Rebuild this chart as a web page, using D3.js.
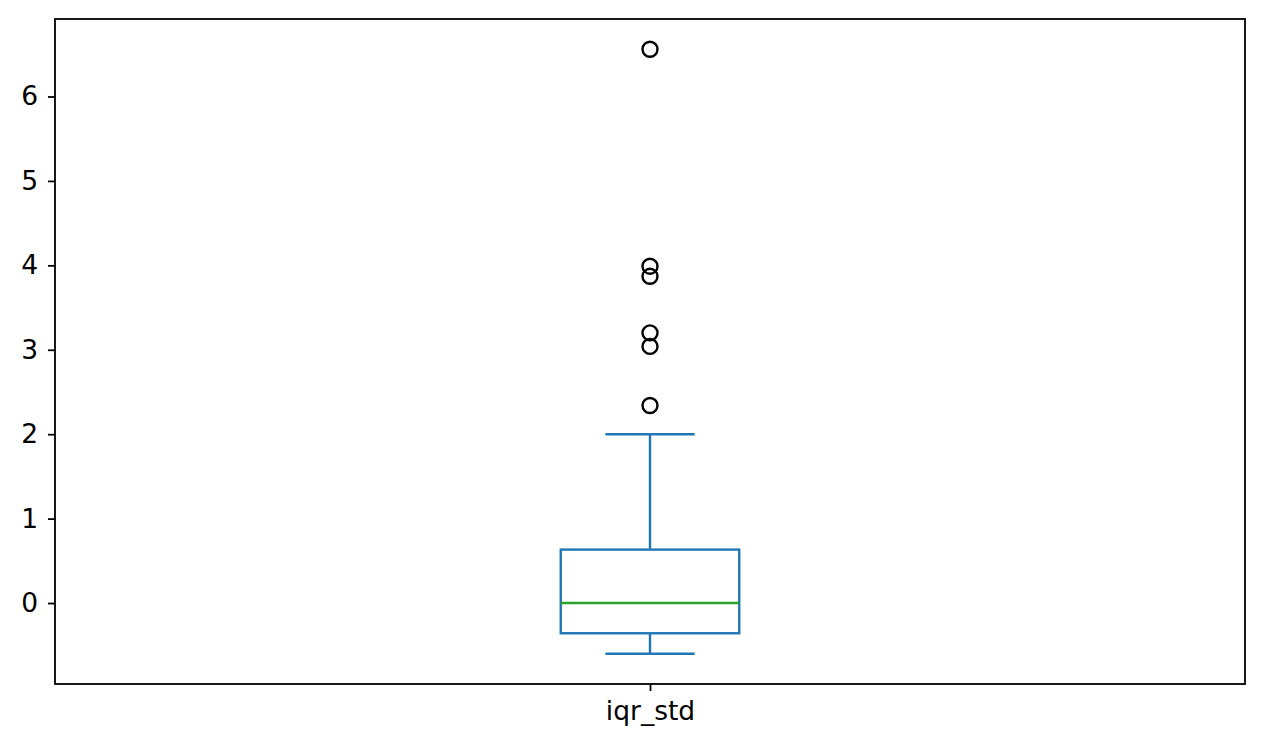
<!DOCTYPE html>
<html>
<head>
<meta charset="utf-8">
<script src="https://cdn.jsdelivr.net/npm/d3@7"></script>
<style>
  body { margin: 0; background: #fff; }
  svg text { font-family: "DejaVu Sans", sans-serif; fill: #000; }
</style>
</head>
<body>
<script>
// data
const categories = ["iqr_std"];
const whiskerLow = [-0.601];
const q1 = [-0.358];
const median = [0.0];
const q3 = [0.633];
const whiskerHigh = [2.0];
const outliers = [[6.56, 3.99, 3.87, 3.20, 3.04, 2.34]];
const yTicks = [0, 1, 2, 3, 4, 5, 6];

const w = 1264;
const h = 748;
const margin = {left: 55, right: 19, top: 19, bottom: 64};

const svg = d3.select("body")
  .append("svg")
  .attr("width", w)
  .attr("height", h);

const allVals = whiskerLow.concat(whiskerHigh, outliers.flat());
const lo = d3.min(allVals), hi = d3.max(allVals);
const pad = (hi - lo) * 0.05;

const yScale = d3.scaleLinear()
  .domain([lo - pad, hi + pad])
  .range([h - margin.bottom, margin.top]);

const xScale = d3.scalePoint()
  .domain(categories)
  .range([margin.left, w - margin.right])
  .padding(0.5);

const plotW = w - margin.left - margin.right;
const boxW = plotW * 0.15;
const capW = boxW / 2;
const blue = "#1f77b4";
const lw = 2.4;

const g = svg.append("g");

categories.forEach((c, i) => {
  const cx = xScale(c);
  // whiskers
  g.append("line")
    .attr("x1", cx).attr("x2", cx)
    .attr("y1", yScale(q3[i])).attr("y2", yScale(whiskerHigh[i]))
    .attr("stroke", blue).attr("stroke-width", lw);
  g.append("line")
    .attr("x1", cx).attr("x2", cx)
    .attr("y1", yScale(q1[i])).attr("y2", yScale(whiskerLow[i]))
    .attr("stroke", blue).attr("stroke-width", lw);
  // caps
  [whiskerHigh[i], whiskerLow[i]].forEach(v => {
    g.append("line")
      .attr("x1", cx - capW / 2).attr("x2", cx + capW / 2)
      .attr("y1", yScale(v)).attr("y2", yScale(v))
      .attr("stroke", blue).attr("stroke-width", lw);
  });
  // box
  g.append("rect")
    .attr("x", cx - boxW / 2)
    .attr("y", yScale(q3[i]))
    .attr("width", boxW)
    .attr("height", yScale(q1[i]) - yScale(q3[i]))
    .attr("fill", "none")
    .attr("stroke", blue).attr("stroke-width", lw);
  // median
  g.append("line")
    .attr("x1", cx - boxW / 2).attr("x2", cx + boxW / 2)
    .attr("y1", yScale(median[i])).attr("y2", yScale(median[i]))
    .attr("stroke", "#2ca02c").attr("stroke-width", lw);
  // fliers
  g.selectAll(".flier" + i)
    .data(outliers[i])
    .enter()
    .append("circle")
    .attr("cx", cx)
    .attr("cy", d => yScale(d))
    .attr("r", 7.5)
    .attr("fill", "none")
    .attr("stroke", "#000")
    .attr("stroke-width", 2.4);
});

const yAxis = d3.axisLeft(yScale).tickValues(yTicks).tickFormat(d3.format("d"))
  .tickSize(7).tickPadding(10);
const xAxis = d3.axisBottom(xScale).tickSize(7).tickPadding(10);

const ya = svg.append("g")
  .attr("transform", "translate(" + margin.left + ",0)")
  .call(yAxis);
const xa = svg.append("g")
  .attr("transform", "translate(0," + (h - margin.bottom) + ")")
  .call(xAxis);

[ya, xa].forEach(a => {
  a.select(".domain").remove();
  a.selectAll("line").attr("stroke", "#000").attr("stroke-width", 1.8);
  a.selectAll("text").style("font-size", "26.5px").style("font-family", "DejaVu Sans");
});

// frame
svg.append("rect")
  .attr("x", margin.left)
  .attr("y", margin.top)
  .attr("width", plotW)
  .attr("height", h - margin.top - margin.bottom)
  .attr("fill", "none")
  .attr("stroke", "#000")
  .attr("stroke-width", 1.8);
</script>
</body>
</html>
